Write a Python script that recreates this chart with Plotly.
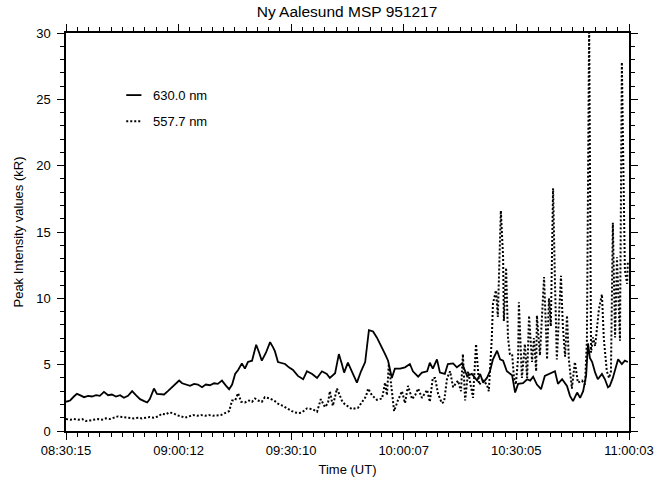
import plotly.graph_objects as go

# Time in minutes after 08:30:15 UT
t_630 = [0.0, 1.1, 2.1, 2.9, 3.7, 4.8, 5.9, 6.9, 8.0, 9.0, 10.1, 11.2, 12.2, 13.3, 14.4, 15.4,
         16.5, 17.6, 18.6, 19.7, 20.8, 21.6, 22.3, 23.4, 24.2, 25.0, 26.1, 27.1, 28.2, 29.3,
         30.1, 30.9, 31.9, 33.0, 34.1, 35.1, 36.2, 37.2, 38.3, 39.4, 40.4, 41.5, 42.6, 43.4,
         44.2, 45.0, 45.8, 46.8, 47.6, 48.4, 49.5, 50.6, 51.4, 52.1, 53.2, 54.3, 55.1, 55.6,
         56.4, 57.5, 58.3, 59.3, 60.4, 61.7, 63.1, 64.1, 65.5, 66.8, 68.1, 69.4, 70.2, 71.6,
         72.6, 73.4, 74.0, 75.0, 76.1, 77.4, 78.5, 79.6, 80.6, 81.7, 82.7, 84.1, 84.9, 85.7,
         86.7, 87.5, 88.9, 90.2, 91.5, 92.3, 93.7, 94.7, 96.1, 96.8, 97.6, 98.7, 99.5, 100.8,
         101.6, 103.0, 104.0, 105.4, 106.7, 108.0, 109.4, 110.2, 111.0, 112.0, 112.8, 113.6,
         114.7, 115.5, 116.3, 117.3, 118.7, 119.5, 120.3, 121.6, 122.7, 123.5, 124.3, 125.3,
         126.4, 127.4, 128.8, 130.1, 130.9, 132.0, 133.3, 134.1, 134.9, 136.0, 136.8, 137.6,
         138.4, 138.9, 139.4, 140.0, 140.8, 141.5, 142.6, 143.4, 144.2, 144.7, 145.5, 146.1,
         146.9, 147.9, 148.7, 149.5]
v_630 = [2.2, 2.3, 2.6, 2.8, 2.7, 2.55, 2.65, 2.6, 2.7, 2.65, 2.95, 2.7, 2.75, 2.6, 2.7, 2.5,
         2.65, 3.0, 2.7, 2.4, 2.25, 2.15, 2.4, 3.2, 2.8, 2.8, 2.75, 3.0, 3.3, 3.6,
         3.8, 3.6, 3.5, 3.4, 3.55, 3.5, 3.3, 3.5, 3.45, 3.6, 3.55, 3.8, 3.4, 3.15,
         3.5, 4.3, 4.6, 5.1, 4.7, 5.2, 5.3, 6.5, 5.9, 5.3, 5.9, 6.7, 6.3, 6.0,
         5.2, 5.1, 5.05, 4.8, 4.6, 4.15, 3.9, 4.5, 4.3, 4.0, 4.5, 4.3, 4.0, 4.35,
         5.8, 5.05, 4.4, 5.15, 4.5, 3.65, 4.5, 5.2, 7.6, 7.5, 7.05, 6.3, 5.8, 5.3,
         4.0, 4.7, 4.7, 4.8, 5.05, 4.5, 4.1, 4.4, 4.5, 5.15, 4.7, 5.4, 4.4, 4.3,
         5.05, 5.1, 4.8, 5.1, 4.15, 4.3, 3.8, 4.3, 3.65, 4.0, 4.5, 5.4,
         6.05, 5.4, 5.3, 4.5, 4.2, 2.9, 3.55, 3.6, 3.9, 3.8, 4.1, 3.5,
         3.15, 4.15, 4.3, 4.5, 3.55, 3.9, 3.4, 2.65, 2.25, 2.9, 2.5, 3.0,
         4.2, 6.6, 5.5, 5.2, 4.4, 3.9, 4.3, 3.9, 3.3, 3.4, 4.0, 4.7,
         5.4, 5.05, 5.3, 5.2]

t_5577 = [0.0, 1.1, 2.1, 3.2, 4.3, 5.3, 6.4, 7.4, 8.5, 9.6, 10.6, 11.7, 12.8, 13.8, 14.9, 16.0,
          17.0, 18.1, 19.2, 20.2, 21.3, 22.3, 23.4, 24.5, 25.5, 26.6, 27.4, 28.5, 29.5, 30.6,
          31.7, 32.7, 33.8, 34.9, 35.9, 37.0, 38.0, 39.1, 40.2, 41.2, 42.3, 43.4, 44.2, 45.0,
          45.8, 46.6, 47.6, 48.7, 49.5, 50.3, 51.1, 52.1, 52.9, 54.3, 55.6, 56.7, 57.7, 59.1,
          60.1, 60.9, 62.0, 62.8, 63.6, 64.1, 65.5, 66.8, 67.8, 68.9, 69.7, 70.2, 71.0, 71.6,
          72.1, 73.4, 74.2, 74.8, 76.1, 77.7, 79.0, 79.8, 80.4, 81.4, 82.7, 84.1, 84.9, 85.4,
          85.9, 86.7, 87.3, 88.3, 89.4, 90.2, 91.0, 92.1, 92.9, 93.7, 94.7, 96.1, 96.8, 97.6,
          98.2, 99.0, 100.0, 100.6, 101.4, 102.2, 103.0, 104.3, 105.1, 105.6, 106.2, 107.0,
          108.3, 109.1, 109.9, 111.0, 112.0, 112.5, 113.1, 113.3, 113.6, 114.4, 114.9, 115.7,
          116.3, 116.5, 117.1, 117.6, 118.1, 118.7, 119.2, 119.7, 120.3, 120.5, 121.3, 122.1,
          122.7, 123.2, 124.0, 124.5, 125.1, 125.3, 126.1, 127.2, 128.0, 128.5, 129.0, 129.6,
          130.1, 130.6, 131.7, 132.2, 132.8, 133.3, 133.8, 134.6, 135.4, 136.2, 137.3, 138.1,
          138.6, 139.2, 139.7, 140.2, 140.8, 141.5, 141.8, 142.6, 143.1, 143.9, 144.5, 145.0,
          145.5, 146.1, 146.6, 147.4, 147.9, 148.7, 149.3, 149.5]
v_5577 = [0.9, 0.85, 0.9, 0.85, 0.9, 0.75, 0.8, 0.85, 0.9, 0.85, 0.95, 0.9, 1.0, 1.1, 1.05, 1.0,
          1.0, 0.95, 1.0, 0.95, 1.0, 1.05, 1.0, 1.1, 1.3, 1.25, 1.4, 1.35, 1.2, 1.1,
          1.0, 1.1, 1.2, 1.15, 1.2, 1.15, 1.2, 1.15, 1.2, 1.2, 1.35, 1.5, 2.3, 2.3,
          2.85, 2.2, 2.15, 2.3, 2.2, 2.45, 2.3, 2.2, 2.55, 2.45, 2.25, 2.0, 1.9, 1.65,
          1.5, 1.4, 1.35, 1.4, 1.55, 1.7, 1.65, 1.45, 2.4, 1.8, 2.1, 3.0, 1.9, 2.5,
          3.2, 2.3, 2.0, 1.9, 1.65, 1.75, 2.25, 2.6, 3.2, 2.7, 2.35, 2.45, 3.65, 2.7,
          5.05, 2.7, 1.5, 2.3, 3.0, 2.1, 3.4, 2.4, 2.7, 3.2, 2.5, 3.1, 2.2, 4.0,
          4.0, 2.8, 2.1, 2.2, 4.0, 4.5, 3.3, 3.8, 3.0, 5.8, 2.3, 4.5,
          2.5, 6.55, 3.5, 3.8, 3.5, 3.0, 5.5, 7.05, 9.6, 10.6, 8.6, 16.6,
          13.1, 8.3, 12.3, 7.05, 5.8, 5.8, 4.0, 3.5, 5.55, 9.7, 4.0, 6.55,
          4.0, 8.7, 5.2, 7.0, 4.5, 8.7, 5.7, 11.6, 5.4, 10.0, 7.9, 18.3,
          11.2, 5.4, 11.7, 7.9, 5.6, 8.7, 5.4, 3.2, 5.2, 3.65, 3.8, 3.5,
          6.8, 30.8, 5.9, 7.05, 6.4, 8.56, 9.2, 10.3, 6.95, 4.5, 4.0, 4.5,
          15.7, 7.05, 13.1, 6.8, 27.8, 12.1, 11.1, 12.8]

tick_labels = ["08:30:15", "09:00:12", "09:30:10", "10:00:07", "10:30:05", "11:00:03"]
tick_pos = [0.0, 29.95, 59.9, 89.85, 119.8, 149.8]
legend_names = ["630.0 nm", "557.7 nm"]

FONT = "Liberation Sans, Arial, sans-serif"

fig = go.Figure()
fig.add_trace(go.Scatter(x=t_630, y=v_630, mode="lines", name=legend_names[0],
                         line=dict(color="black", width=1.8), showlegend=False))
fig.add_trace(go.Scatter(x=t_5577, y=v_5577, mode="lines", name=legend_names[1],
                         line=dict(color="black", width=2, dash="2px,2px"), showlegend=False))

# legend drawn by hand (short samples like the original)
leg_y = [0.844, 0.778]
for i in range(2):
    fig.add_shape(type="line", xref="paper", yref="paper", x0=0.107, x1=0.134,
                  y0=leg_y[i], y1=leg_y[i],
                  line=dict(color="black", width=1.8 if i == 0 else 2,
                            dash="solid" if i == 0 else "2px,2px"))
    fig.add_annotation(xref="paper", yref="paper", x=0.151, y=leg_y[i], text=legend_names[i],
                       showarrow=False, xanchor="left", yanchor="middle",
                       font=dict(family=FONT, size=13, color="black"))

axis_common = dict(showline=True, linecolor="black", linewidth=1.5, mirror="ticks",
                   ticks="outside", tickcolor="black", tickwidth=1.2, ticklen=7,
                   showgrid=False, zeroline=False, automargin=False,
                   tickfont=dict(family=FONT, size=13, color="black"))

fig.update_layout(
    width=661, height=479,
    margin=dict(l=66, r=32, t=33, b=48),
    paper_bgcolor="white", plot_bgcolor="white",
    title=dict(text="Ny Aalesund MSP 951217", x=0.525, xanchor="center", y=0.975, yanchor="middle",
               font=dict(family=FONT, size=15.5, color="black")),
    xaxis=dict(range=[0, 149.8], tickmode="array", tickvals=tick_pos, ticktext=tick_labels,
               minor=dict(dtick=149.8 / 50, tick0=0, ticks="outside", ticklen=4,
                          tickcolor="black", tickwidth=1),
               ticklabelstandoff=0,
               title=dict(text="Time (UT)", standoff=8,
                          font=dict(family=FONT, size=13, color="black")),
               **axis_common),
    yaxis=dict(range=[0, 30], tickmode="array", tickvals=[0, 5, 10, 15, 20, 25, 30],
               minor=dict(dtick=1, tick0=0, ticks="outside", ticklen=4,
                          tickcolor="black", tickwidth=1),
               ticklabelstandoff=4,
               title=dict(text="Peak Intensity values (kR)", standoff=10,
                          font=dict(family=FONT, size=13, color="black")),
               **axis_common),
)

fig.write_html("out.html")
